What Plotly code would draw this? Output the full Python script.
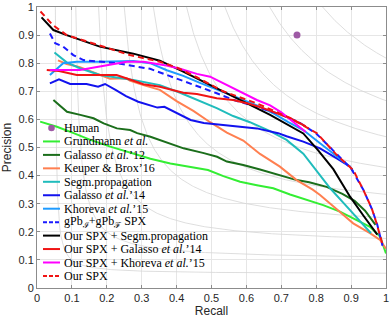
import numpy as np
import plotly.graph_objects as go

# ---------------- data ----------------
human_R = [0.745]
human_P = [0.90]

grund_R = [0.009, 0.057, 0.105, 0.153, 0.21, 0.267, 0.325, 0.382, 0.439, 0.49, 0.534, 0.582, 0.63, 0.677, 0.725, 0.77, 0.82, 0.868, 0.916, 0.954, 0.983, 1.0]
grund_P = [0.592, 0.574, 0.551, 0.527, 0.503, 0.483, 0.46, 0.443, 0.432, 0.42, 0.398, 0.378, 0.366, 0.355, 0.333, 0.315, 0.295, 0.272, 0.242, 0.218, 0.183, 0.123]

gal12_R = [0.047, 0.086, 0.124, 0.162, 0.191, 0.229, 0.267, 0.287, 0.325, 0.363, 0.42, 0.478, 0.516, 0.544, 0.591, 0.639, 0.696, 0.744, 0.78, 0.83, 0.875, 0.91, 0.94, 0.97]
gal12_P = [0.669, 0.627, 0.616, 0.604, 0.586, 0.568, 0.562, 0.551, 0.538, 0.521, 0.497, 0.48, 0.467, 0.45, 0.438, 0.422, 0.402, 0.384, 0.376, 0.36, 0.335, 0.31, 0.275, 0.225]

keuper_R = [0.06, 0.085, 0.123, 0.18, 0.209, 0.257, 0.266, 0.305, 0.352, 0.40, 0.448, 0.496, 0.544, 0.591, 0.639, 0.696, 0.744, 0.79, 0.811, 0.859, 0.906, 0.954, 0.983, 1.0]
keuper_P = [0.81, 0.797, 0.786, 0.758, 0.745, 0.746, 0.738, 0.722, 0.705, 0.665, 0.63, 0.59, 0.553, 0.525, 0.477, 0.432, 0.384, 0.35, 0.331, 0.28, 0.23, 0.195, 0.171, 0.14]

segm_R = [0.05, 0.066, 0.085, 0.123, 0.18, 0.276, 0.352, 0.41, 0.458, 0.515, 0.562, 0.61, 0.668, 0.715, 0.763, 0.80, 0.84, 0.88, 0.92, 0.957]
segm_P = [0.838, 0.822, 0.803, 0.782, 0.758, 0.74, 0.722, 0.695, 0.67, 0.64, 0.612, 0.59, 0.558, 0.527, 0.478, 0.42, 0.355, 0.30, 0.245, 0.195]

gal14_R = [0.037, 0.063, 0.095, 0.142, 0.175, 0.195, 0.225, 0.255, 0.29, 0.32, 0.345, 0.365, 0.40, 0.44, 0.478, 0.516, 0.572, 0.63, 0.691, 0.715, 0.763, 0.811, 0.859, 0.897]
gal14_P = [0.728, 0.743, 0.726, 0.726, 0.716, 0.726, 0.705, 0.683, 0.663, 0.652, 0.642, 0.645, 0.622, 0.598, 0.587, 0.582, 0.577, 0.568, 0.551, 0.54, 0.521, 0.497, 0.461, 0.432]

khor_R = [0.037, 0.075, 0.114, 0.18, 0.276, 0.324, 0.372, 0.419, 0.467, 0.52, 0.58, 0.63, 0.68, 0.72, 0.763, 0.811, 0.859, 0.897, 0.906]
khor_P = [0.758, 0.80, 0.805, 0.805, 0.808, 0.80, 0.775, 0.755, 0.73, 0.705, 0.675, 0.65, 0.62, 0.59, 0.562, 0.515, 0.467, 0.432, 0.415]

gpb_R = [0.037, 0.052, 0.075, 0.104, 0.133, 0.18, 0.228, 0.276, 0.324, 0.372, 0.419, 0.467, 0.515, 0.562, 0.61, 0.658, 0.70, 0.75, 0.80, 0.86, 0.90, 0.935, 0.96, 0.975, 0.99]
gpb_P = [0.906, 0.871, 0.859, 0.829, 0.811, 0.805, 0.80, 0.79, 0.78, 0.758, 0.737, 0.716, 0.693, 0.67, 0.652, 0.633, 0.617, 0.59, 0.55, 0.475, 0.425, 0.35, 0.28, 0.225, 0.15]

oseg_R = [0.013, 0.047, 0.085, 0.123, 0.18, 0.276, 0.352, 0.419, 0.515, 0.61, 0.668, 0.763, 0.805, 0.849, 0.897, 0.935, 0.975]
oseg_P = [0.963, 0.918, 0.90, 0.883, 0.859, 0.834, 0.809, 0.77, 0.71, 0.651, 0.616, 0.55, 0.491, 0.423, 0.325, 0.258, 0.19]

ogal_R = [0.028, 0.063, 0.114, 0.171, 0.228, 0.266, 0.305, 0.352, 0.39, 0.419, 0.458, 0.515, 0.562, 0.61, 0.648, 0.696, 0.725, 0.754, 0.77]
ogal_P = [0.776, 0.772, 0.758, 0.758, 0.758, 0.742, 0.725, 0.716, 0.705, 0.695, 0.69, 0.675, 0.669, 0.655, 0.64, 0.616, 0.604, 0.586, 0.575]

okho_R = [0.037, 0.085, 0.123, 0.18, 0.257, 0.305, 0.362, 0.41, 0.458, 0.496, 0.582, 0.63, 0.668, 0.70, 0.73, 0.755, 0.77]
okho_P = [0.776, 0.776, 0.776, 0.788, 0.805, 0.805, 0.794, 0.78, 0.762, 0.752, 0.699, 0.669, 0.65, 0.625, 0.595, 0.568, 0.555]

ours_R = [0.01, 0.046, 0.085, 0.171, 0.266, 0.352, 0.40, 0.458, 0.533, 0.63, 0.725, 0.802, 0.859, 0.906, 0.935, 0.959, 0.973, 0.992]
ours_P = [0.984, 0.935, 0.90, 0.865, 0.829, 0.805, 0.785, 0.75, 0.70, 0.657, 0.605, 0.551, 0.473, 0.42, 0.349, 0.284, 0.23, 0.147]

iso_F = [0.1, 0.2, 0.3, 0.4, 0.5, 0.6, 0.7, 0.8, 0.9]
ticks = [0, 0.1, 0.2, 0.3, 0.4, 0.5, 0.6, 0.7, 0.8, 0.9, 1.0]
tick_text = ["0", "0.1", "0.2", "0.3", "0.4", "0.5", "0.6", "0.7", "0.8", "0.9", "1"]

# series: (label, R, P, color, dash)
series = [
    ("Grundmann <i>et al.</i>", grund_R, grund_P, "#33ee33", "solid"),
    ("Galasso <i>et al.</i>’12", gal12_R, gal12_P, "#1b6e1b", "solid"),
    ("Keuper &amp; Brox’16", keuper_R, keuper_P, "#ff7f50", "solid"),
    ("Segm.propagation", segm_R, segm_P, "#20bcbc", "solid"),
    ("Galasso <i>et al.</i>’14", gal14_R, gal14_P, "#1212ee", "solid"),
    ("Khoreva <i>et al.</i>’15", khor_R, khor_P, "#1e9bff", "solid"),
    ("gPb<sub>ℐ</sub>+gPb<sub>ℱ</sub> SPX", gpb_R, gpb_P, "#1a1aff", "dash"),
    ("Our SPX + Segm.propagation", oseg_R, oseg_P, "#000000", "solid"),
    ("Our SPX + Galasso <i>et al.</i>’14", ogal_R, ogal_P, "#f01414", "solid"),
    ("Our SPX + Khoreva <i>et al.</i>’15", okho_R, okho_P, "#ff00ff", "solid"),
    ("Our SPX", ours_R, ours_P, "#f01414", "dash"),
]
human_color = "#9e5aa5"

fig = go.Figure()

# iso-F reference curves
for F in iso_F:
    r = np.linspace(F / (2 - F), 1.0, 300)
    p = F * r / (2 * r - F)
    fig.add_trace(go.Scatter(x=r, y=p, mode="lines", hoverinfo="skip",
                             line=dict(color="#d6d6d6", width=0.8), showlegend=False))

fig.add_trace(go.Scatter(x=human_R, y=human_P, mode="markers",
                         marker=dict(color=human_color, size=7), showlegend=False))

for name, R, P, col, dash in series:
    fig.add_trace(go.Scatter(
        x=R, y=P, mode="lines", name=name, showlegend=False,
        line=dict(color=col, width=2, dash=("6px,4px" if dash == "dash" else "solid"))))

# ---------------- custom legend (layout only) ----------------
W, H = 390, 321
ML, MR, MT, MB = 37, 4, 7, 33
pw, ph = W - ML - MR, H - MT - MB

def px2x(px):
    return (px - ML) / pw

def py2y(py):
    return (H - MB - py) / ph

leg_top = 128.0
row_h = 13.45
sw_x0, sw_x1, txt_x = 43, 60, 62

shapes = []
annotations = []
entries = [("Human", None, None)] + [(s[0], s[3], s[4]) for s in series]
for i, (label, col, dash) in enumerate(entries):
    yc = leg_top + row_h * i
    if col is None:
        r = 3.3
        cx = (sw_x0 + sw_x1) / 2
        shapes.append(dict(type="circle", xref="paper", yref="paper",
                           x0=px2x(cx - r), x1=px2x(cx + r),
                           y0=py2y(yc + r), y1=py2y(yc - r),
                           fillcolor=human_color, line=dict(width=0)))
    else:
        shapes.append(dict(type="line", xref="paper", yref="paper",
                           x0=px2x(sw_x0), x1=px2x(sw_x1), y0=py2y(yc), y1=py2y(yc),
                           line=dict(color=col, width=2,
                                     dash=("4px,2px" if dash == "dash" else "solid"))))
    annotations.append(dict(x=px2x(txt_x), y=py2y(yc), xref="paper", yref="paper",
                            text=label, showarrow=False, xanchor="left", yanchor="middle",
                            font=dict(family="Liberation Serif", size=12, color="#000000")))

axis_common = dict(
    range=[0, 1], tickvals=ticks, ticktext=tick_text, automargin=False,
    showgrid=True, gridcolor="#e6e6e6", gridwidth=1, zeroline=False,
    showline=True, linecolor="#8c8c8c", linewidth=1, mirror="ticks",
    ticks="inside", ticklen=3, tickcolor="#8c8c8c",
    tickfont=dict(family="Liberation Sans", size=11, color="#262626"),
)

fig.update_layout(
    width=W, height=H,
    margin=dict(l=ML, r=MR, t=MT, b=MB, pad=0),
    paper_bgcolor="white", plot_bgcolor="white",
    showlegend=False,
    xaxis=dict(**axis_common, title=dict(text="Recall", standoff=0,
               font=dict(family="Liberation Sans", size=12, color="#262626"))),
    yaxis=dict(**axis_common, title=dict(text="Precision", standoff=6,
               font=dict(family="Liberation Sans", size=12, color="#262626"))),
    shapes=shapes, annotations=annotations,
)

fig.write_html("out.html", config={"displayModeBar": False},
               post_script="document.body.style.margin='0';")
